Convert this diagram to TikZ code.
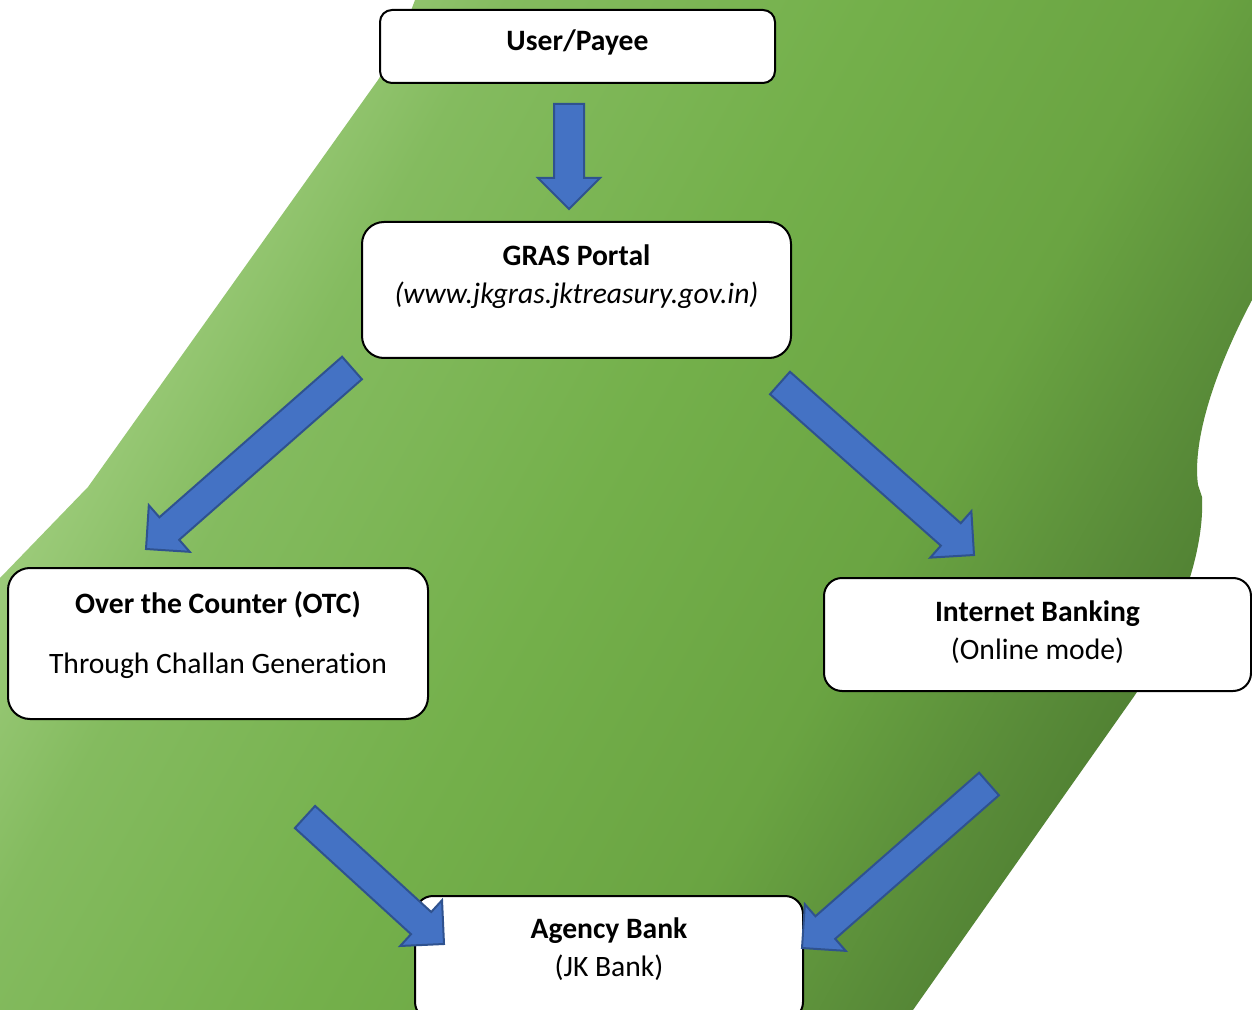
\documentclass[tikz,border=0pt]{standalone}
\usepackage{fontspec}
\setmainfont{Carlito}[Ligatures=NoCommon]
\usetikzlibrary{calc}

\definecolor{gone}{RGB}{156,203,122}
\definecolor{gtwo}{RGB}{132,187,95}
\definecolor{gthree}{RGB}{116,176,75}
\definecolor{gfour}{RGB}{106,164,66}
\definecolor{gfive}{RGB}{88,138,56}
\definecolor{gsix}{RGB}{80,128,50}
\definecolor{arrowblue}{RGB}{68,114,196}
\definecolor{arrowedge}{RGB}{47,82,143}

\pgfdeclarehorizontalshading{greenfade}{100bp}{color(0bp)=(gone); color(28bp)=(gone);
  color(35bp)=(gtwo); color(48.5bp)=(gthree); color(61bp)=(gfour); color(70bp)=(gfive);
  color(74bp)=(gsix); color(100bp)=(gsix)}

% extra depth below the last text line of a box
\newcommand{\boxgap}[1]{\rule[-#1]{0pt}{#1}}
% block arrow from #1 (tail) to #2 (tip)
\newcommand{\blockarrow}[2]{%
  \coordinate (neck) at ($(#2)!15.5pt!(#1)$);
  \draw[flow] ($(#1)!7.5pt!90:(#2)$) -- ($(neck)!7.5pt!90:(#2)$) -- ($(neck)!15.5pt!90:(#2)$)
    -- (#2) -- ($(neck)!15.5pt!-90:(#2)$) -- ($(neck)!7.5pt!-90:(#2)$) -- ($(#1)!7.5pt!-90:(#2)$) -- cycle;}

\begin{document}
\begin{tikzpicture}[
			x=0.5pt, y=-0.5pt,
			font=\fontsize{14.8pt}{19pt}\selectfont,
			box/.style={draw, line width=1pt, fill=white, align=center, inner sep=0pt},
			flow/.style={fill=arrowblue, draw=arrowedge, line width=1pt, line join=miter}
			]
			
			% Background
			\useasboundingbox (0,0) rectangle (1252,1010);
			\fill[white] (0,0) rectangle (1252,1010);
			\shade[shading=greenfade, shading angle=-29]
			  (415,0) -- (1252,0) -- (1252,300)
			  .. controls (1215,370) and (1192,440) .. (1198,485) -- (1202,497)
			  .. controls (1205,560) and (1170,640) .. (1135,695) -- (913,1010)
			  -- (0,1010) -- (0,578) -- (88,487) -- (378,80)
			  .. controls (392,58) and (404,30) .. (415,0) -- cycle;
			
			% Nodes
			\node (user) [box, rounded corners=6pt, minimum width=197.5pt, minimum height=36.5pt] at (577.5,46.5) {\textbf{User/Payee}\boxgap{6pt}};
			\node (gras) [box, rounded corners=11pt, minimum width=214.5pt, minimum height=68pt] at (576.5,290) {\textbf{GRAS Portal}\\\textit{(www.jkgras.jktreasury.gov.in)}\boxgap{15.5pt}};
			\node (otc) [box, rounded corners=11pt, minimum width=210pt, minimum height=75.5pt] at (218,643.5) {\textbf{Over the Counter (OTC)}\\[11pt]Through Challan Generation\boxgap{11pt}};
			\node (ib) [box, rounded corners=9pt, minimum width=213.5pt, minimum height=56.5pt] at (1037.5,634.5) {\textbf{Internet Banking}\\(Online mode)\boxgap{4pt}};
			\node (agency) [box, rounded corners=9pt, minimum width=194pt, minimum height=62pt] at (609,958) {\textbf{Agency Bank}\\(JK Bank)\boxgap{10.5pt}};
			
			% Arrow ends
			\coordinate (user-out) at (569,104);   \coordinate (gras-in) at (569,209);
			\coordinate (gras-left) at (352,368);  \coordinate (otc-in) at (146,549);
			\coordinate (gras-right) at (780,383); \coordinate (ib-in) at (974,555);
			\coordinate (otc-out) at (305,817);    \coordinate (agency-left) at (444,944);
			\coordinate (ib-out) at (989,784);     \coordinate (agency-right) at (802,948);
			
			% Connections
			\blockarrow{user-out}{gras-in}
			\blockarrow{gras-left}{otc-in}
			\blockarrow{gras-right}{ib-in}
			\blockarrow{otc-out}{agency-left}
			\blockarrow{ib-out}{agency-right}
			
		\end{tikzpicture}
\end{document}
